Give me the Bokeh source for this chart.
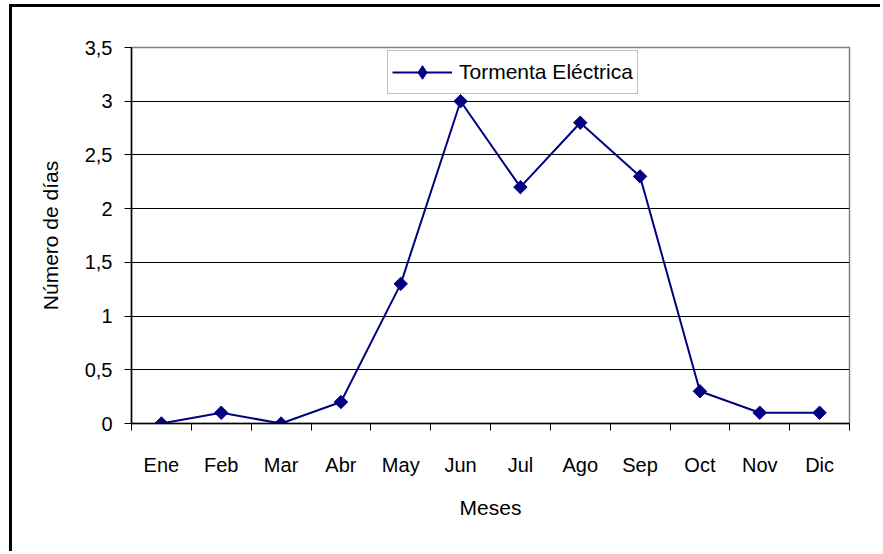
import math
from bokeh.plotting import figure
from bokeh.models import FixedTicker, Legend, LegendItem, ColumnDataSource
from bokeh.embed import file_html
from bokeh.resources import INLINE

# Monthly number of days with thunderstorms
months = ["Ene", "Feb", "Mar", "Abr", "May", "Jun", "Jul", "Ago", "Sep", "Oct", "Nov", "Dic"]
days = [0, 0.1, 0, 0.2, 1.3, 3.0, 2.2, 2.8, 2.3, 0.3, 0.1, 0.1]
y_ticks = [0, 0.5, 1, 1.5, 2, 2.5, 3, 3.5]

FONT = "Liberation Sans Narrow, Arial Narrow, Liberation Sans, Arial, sans-serif"
NAVY = "#000080"

xpos = [i + 0.5 for i in range(len(months))]
src = ColumnDataSource(dict(x=xpos, y=days))

# The chart sits inside a page frame whose top and left edges are visible
OFF_X, OFF_Y, EDGE = 9, 4, 3
p = figure(width=883 - OFF_X - EDGE, height=554 - OFF_Y - EDGE,
           output_backend="svg", toolbar_location=None,
           x_range=(0, len(months)), y_range=(0, 3.5),
           min_border_left=131 - OFF_X - EDGE, min_border_right=34,
           min_border_top=47 - OFF_Y - EDGE, min_border_bottom=131)
p.margin = (OFF_Y, 0, 0, OFF_X)
p.styles = {"border-left": f"{EDGE}px solid black", "border-top": f"{EDGE}px solid black"}
p.background_fill_color = "white"
p.border_fill_color = "white"
p.outline_line_color = "#808080"
p.outline_line_width = 1.5

# Category axis: labels at month centres, tick marks on month boundaries
xt = FixedTicker(ticks=xpos, minor_ticks=list(range(len(months) + 1)))
p.xaxis.ticker = xt
p.xaxis.major_label_overrides = {x: m for x, m in zip(xpos, months)}
p.xaxis.major_tick_out = 0
p.xaxis.major_tick_in = 0
p.xaxis.minor_tick_out = 7
p.xaxis.minor_tick_in = 0
p.xaxis.minor_tick_line_color = "black"
p.xaxis.axis_line_color = "black"
p.xaxis.axis_line_width = 1.5
p.xaxis.major_label_standoff = 23
p.xaxis.axis_label = "Meses"
p.xaxis.axis_label_standoff = 17
p.xgrid.visible = False

p.yaxis.ticker = FixedTicker(ticks=y_ticks, minor_ticks=[])
p.yaxis.major_label_overrides = {t: (f"{t:g}").replace(".", ",") for t in y_ticks}
p.yaxis.major_tick_out = 7
p.yaxis.major_tick_in = 0
p.yaxis.major_tick_line_color = "black"
p.yaxis.axis_line_color = "black"
p.yaxis.axis_line_width = 1.5
p.yaxis.major_label_standoff = 12
p.yaxis.axis_label = "Número de días"
p.yaxis.axis_label_standoff = 20
p.ygrid.grid_line_color = "black"
p.ygrid.grid_line_width = 1

for ax in (p.xaxis[0], p.yaxis[0]):
    ax.major_label_text_font = FONT
    ax.major_label_text_font_size = "20px"
    ax.major_label_text_color = "black"
    ax.axis_label_text_font = FONT
    ax.axis_label_text_font_size = "21px"
    ax.axis_label_text_font_style = "normal"
    ax.axis_label_text_color = "black"

ln = p.line("x", "y", source=src, line_color=NAVY, line_width=2)
mk = p.scatter("x", "y", source=src, marker="square", angle=math.pi / 4, size=9.5,
               fill_color=NAVY, line_color=NAVY)

# Legend swatch: an un-rotated diamond marker, its single point kept below the visible range
swatch = p.scatter(x=[xpos[0]], y=[-10], marker="diamond", size=15,
                   fill_color=NAVY, line_color=NAVY)

legend = Legend(items=[LegendItem(label="Tormenta Eléctrica", renderers=[ln, swatch])],
                location=(256, 329), orientation="vertical",
                border_line_color="#808080", border_line_width=1.5,
                background_fill_color="white", background_fill_alpha=1,
                label_text_font=FONT, label_text_font_size="21px", label_text_color="black",
                glyph_width=60, glyph_height=34, label_standoff=7,
                padding=4, margin=0, spacing=0)
p.add_layout(legend, "center")

open("out.html", "w").write(file_html(p, INLINE))
